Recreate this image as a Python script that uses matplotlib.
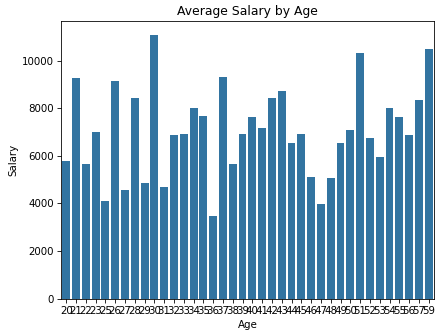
import matplotlib
matplotlib.use("Agg")
import matplotlib.pyplot as plt
import seaborn as sns
import pandas as pd

ages = [20, 21, 22, 23, 25, 26, 27, 28, 29, 30, 31, 32, 33, 34, 35, 36, 37, 38, 39,
        40, 41, 42, 43, 44, 45, 46, 47, 48, 49, 50, 51, 52, 53, 54, 55, 56, 57, 59]
salary = [5780, 9260, 5640, 6980, 4090, 9130, 4570, 8430, 4870, 11090, 4690, 6870,
          6930, 8000, 7680, 3460, 9330, 5660, 6930, 7625, 7160, 8430, 8730, 6550,
          6900, 5100, 3980, 5070, 6550, 7080, 10310, 6760, 5960, 8000, 7650, 6870,
          8350, 10470]

df = pd.DataFrame({"Age": ages, "Salary": salary})

dpi = 74
fig = plt.figure(figsize=(438 / dpi, 330 / dpi), dpi=dpi)
ax = sns.barplot(data=df, x="Age", y="Salary", color="#1f77b4")
plt.title("Average Salary by Age")
plt.subplots_adjust(left=0.14, right=0.99, top=0.935, bottom=0.095)
plt.savefig("out.png", dpi=dpi)
